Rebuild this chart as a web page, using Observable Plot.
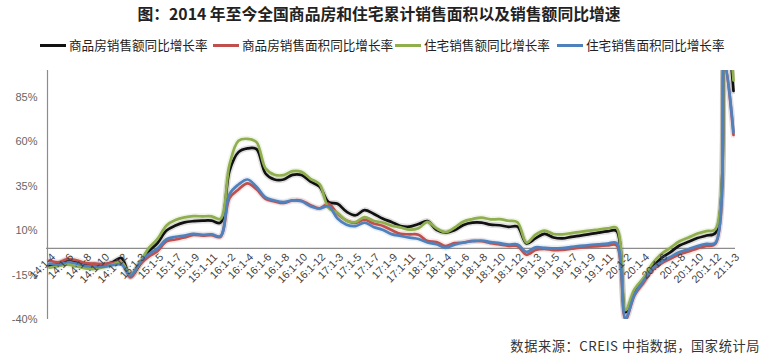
<!DOCTYPE html>
<html><head><meta charset="utf-8">
<script src="https://cdn.jsdelivr.net/npm/d3@7"></script>
<script src="https://cdn.jsdelivr.net/npm/@observablehq/plot@0.6"></script>
<style>
body{margin:0;background:#fff;width:765px;height:364px;position:relative;overflow:hidden;font-family:"Noto Sans CJK SC","Noto Sans",sans-serif;}
#title{position:absolute;left:0;top:3px;width:758px;text-align:center;font-weight:bold;font-size:15.8px;color:#222;line-height:22px;}
#legend{position:absolute;top:35px;left:0;width:765px;height:20px;font-size:12.6px;color:#222;}
.item{position:absolute;top:0;line-height:20px;white-space:nowrap}
.sw{display:inline-block;width:26px;height:3px;vertical-align:middle;margin-right:3px;position:relative;top:-1px}
#chart{position:absolute;left:0;top:60px;}
#source{position:absolute;right:5px;top:336px;font-size:13.2px;letter-spacing:0.6px;color:#333;line-height:20px;}
</style>
</head>
<body>
<div id="title">图：2014 年至今全国商品房和住宅累计销售面积以及销售额同比增速</div>
<div id="legend"></div>
<div id="chart"></div>
<div id="source">数据来源：CREIS 中指数据，国家统计局</div>
<script>
const categories = [
 "14:1-4","14:1-5","14:1-6","14:1-7","14:1-8","14:1-9","14:1-10","14:1-11","14:1-12",
 "15:1-2","15:1-3","15:1-4","15:1-5","15:1-6","15:1-7","15:1-8","15:1-9","15:1-10","15:1-11","15:1-12",
 "16:1-2","16:1-3","16:1-4","16:1-5","16:1-6","16:1-7","16:1-8","16:1-9","16:1-10","16:1-11","16:1-12",
 "17:1-2","17:1-3","17:1-4","17:1-5","17:1-6","17:1-7","17:1-8","17:1-9","17:1-10","17:1-11","17:1-12",
 "18:1-2","18:1-3","18:1-4","18:1-5","18:1-6","18:1-7","18:1-8","18:1-9","18:1-10","18:1-11","18:1-12",
 "19:1-2","19:1-3","19:1-4","19:1-5","19:1-6","19:1-7","19:1-8","19:1-9","19:1-10","19:1-11","19:1-12",
 "20:1-2","20:1-3","20:1-4","20:1-5","20:1-6","20:1-7","20:1-8","20:1-9","20:1-10","20:1-11","20:1-12",
 "21:1-2","21:1-3"
];
const tickLabels = [
 "14:1-4","14:1-6","14:1-8","14:1-10","14:1-12","15:1-3","15:1-5","15:1-7","15:1-9","15:1-11",
 "16:1-2","16:1-4","16:1-6","16:1-8","16:1-10","16:1-12","17:1-3","17:1-5","17:1-7","17:1-9","17:1-11",
 "18:1-2","18:1-4","18:1-6","18:1-8","18:1-10","18:1-12","19:1-3","19:1-5","19:1-7","19:1-9","19:1-11",
 "20:1-2","20:1-4","20:1-6","20:1-8","20:1-10","20:1-12","21:1-3"
];
const yTicks = [-40, -15, 10, 35, 60, 85];
const seriesNames = ["商品房销售额同比增长率","商品房销售面积同比增长率","住宅销售额同比增长率","住宅销售面积同比增长率"];
const seriesColors = ["#111111","#C0504D","#8FAE4E","#4F81BD"];

const salesValue = [
 -9.9,-8.5,-6.7,-7.6,-8.9,-8.9,-9.3,-7.8,-5.5,
 -15.8,-9.3,-2.0,3.0,10.0,12.8,14.6,15.3,15.6,15.6,14.4,
 43.6,54.1,56.2,55.8,42.1,38.7,38.7,41.3,41.2,37.5,34.8,
 26.0,25.1,20.6,18.6,21.5,19.5,16.8,14.8,12.6,12.2,13.7,
 15.3,10.4,8.9,10.2,13.2,14.5,14.5,13.3,13.0,12.1,12.2,
 2.8,5.6,8.1,6.1,5.6,6.5,7.2,8.0,8.8,9.5,9.8,
 -35.9,-24.7,-18.6,-10.6,-5.4,-2.1,1.6,3.7,5.8,7.2,8.7,
 133.4,88.5
];
const salesArea = [
 -6.8,-7.8,-6.0,-6.7,-8.3,-8.6,-8.9,-8.2,-7.6,
 -16.3,-9.2,-4.8,-1.6,3.9,5.0,6.1,7.5,7.2,7.4,6.5,
 28.2,33.1,36.5,33.2,27.9,26.4,25.5,26.9,26.8,24.3,22.5,
 25.1,19.5,15.7,14.3,16.1,14.0,12.7,10.3,8.2,7.9,7.7,
 4.1,3.6,1.3,2.9,3.3,4.2,4.0,2.9,2.2,1.4,1.3,
 -3.6,-0.9,-0.3,-1.0,-0.8,-0.2,0.4,0.9,1.3,1.6,1.8,
 -39.9,-26.3,-19.3,-12.3,-8.4,-5.8,-3.3,-1.8,0.0,1.3,2.6,
 104.9,63.8
];
const resValue = [
 -10.8,-10.0,-9.2,-10.2,-11.3,-11.6,-10.6,-9.1,-7.8,
 -14.6,-8.3,0.0,5.3,12.9,15.9,17.4,18.1,18.0,18.0,16.6,
 47.1,60.5,61.6,59.7,45.0,41.4,41.2,43.4,43.0,39.1,36.1,
 22.8,20.0,15.5,14.8,17.6,15.5,14.5,12.8,11.8,10.5,11.3,
 14.9,11.2,9.1,11.6,15.1,16.5,17.3,16.3,16.4,15.5,14.7,
 3.2,7.7,10.0,8.1,7.9,8.6,9.3,10.0,10.6,11.2,11.6,
 -34.7,-22.9,-16.6,-8.4,-3.1,0.4,4.0,6.1,8.3,9.7,10.8,
 138.2,94.5
];
const resArea = [
 -8.6,-9.2,-7.8,-8.6,-10.0,-10.3,-10.3,-9.5,-9.1,
 -15.4,-8.4,-3.4,-0.1,5.1,6.5,7.2,8.2,7.6,7.9,6.9,
 30.4,35.9,38.7,34.6,28.6,26.9,26.0,27.0,26.5,23.7,22.4,
 23.7,16.8,13.3,12.5,14.5,12.0,10.5,8.0,7.0,6.0,5.3,
 3.3,2.3,0.3,2.1,3.2,4.0,4.4,3.5,2.9,2.1,2.2,
 -2.0,0.6,0.3,0.0,0.2,0.8,1.4,1.9,2.3,2.7,3.0,
 -39.2,-25.9,-18.3,-11.3,-7.6,-4.8,-2.1,-0.5,1.3,2.5,3.2,
 104.8,65.3
];

const seriesValues = [salesValue, salesArea, resValue, resArea];
const rows = [];
seriesValues.forEach((vals, si) => {
  vals.forEach((v, i) => rows.push({cat: categories[i], v, s: seriesNames[si]}));
});

// legend
const legend = document.getElementById("legend");
const legendLeft = [40, 213, 395, 557];
seriesNames.forEach((n, i) => {
  const d = document.createElement("div");
  d.className = "item";
  d.style.left = legendLeft[i] + "px";
  d.innerHTML = `<span class="sw" style="background:${seriesColors[i]}"></span>${n}`;
  legend.appendChild(d);
});

const chart = Plot.plot({
  width: 765, height: 280,
  marginLeft: 46, marginRight: 30, marginTop: 10, marginBottom: 21,
  style: {fontFamily: "'Liberation Sans', Arial, sans-serif", fontSize: "11px", color: "#666666", background: "transparent"},
  x: {type: "point", domain: categories, padding: 0, axis: null},
  y: {domain: [-40, 100], ticks: yTicks, tickFormat: d => d + "%", tickSize: 0, tickPadding: 9, label: null},
  color: {domain: seriesNames, range: seriesColors},
  marks: [
    Plot.ruleX([categories[0]], {y1: -40, y2: 100, stroke: "#8c8c8c", strokeWidth: 1.2, dx: -2}),
    Plot.ruleY([0], {stroke: "#8c8c8c", strokeWidth: 1.2}),
    Plot.line(rows, {x: "cat", y: "v", z: "s", stroke: "s", strokeWidth: 6, strokeOpacity: 0.13, curve: "catmull-rom", clip: true}),
    Plot.line(rows, {x: "cat", y: "v", z: "s", stroke: "s", strokeWidth: 2.7, curve: "catmull-rom", clip: true}),
    Plot.text(tickLabels, {x: d => d, y: () => 0, text: d => d, rotate: -45, textAnchor: "end", dx: 4, dy: 7, fontSize: 10.8, fill: "#404040"})
  ]
});
document.getElementById("chart").appendChild(chart);
</script>
</body></html>
